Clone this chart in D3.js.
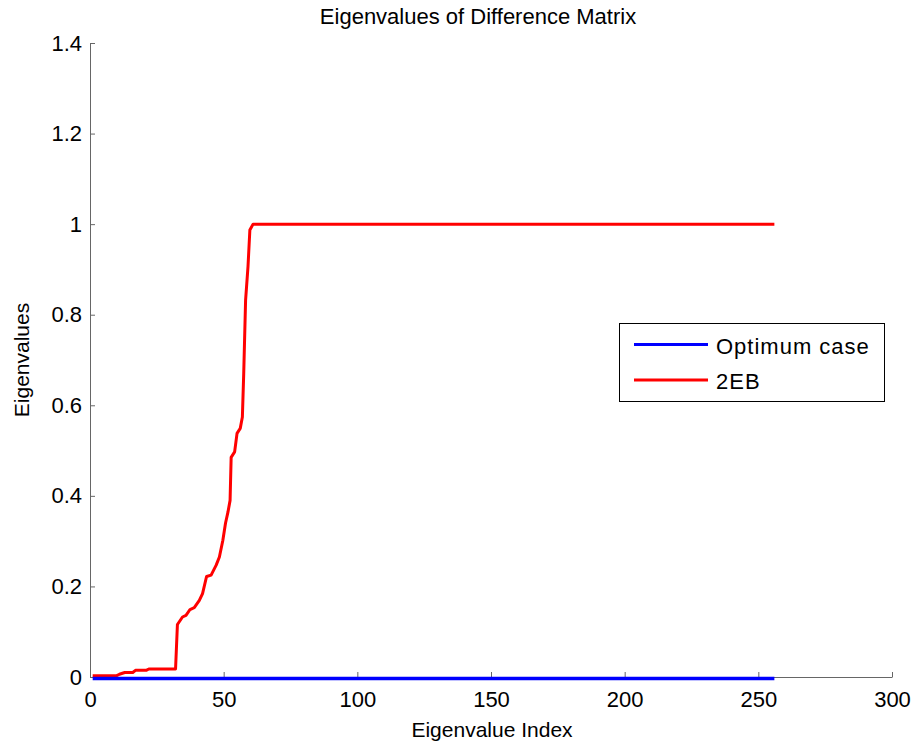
<!DOCTYPE html>
<html>
<head>
<meta charset="utf-8">
<script src="https://cdn.jsdelivr.net/npm/d3@7"></script>
<style>
  html, body { margin: 0; padding: 0; background: #fff; }
  svg { display: block; font-family: "Liberation Sans", Arial, sans-serif; }
</style>
</head>
<body>
<svg id="chart" width="917" height="744"></svg>
<script>
// Sorted eigenvalues of the difference matrix (index 1..256)
const optimumIndex = [1, 256];
const optimumValues = [0, 0];

const ebIndex = [1, 10, 11, 13, 14, 16, 17, 21, 22, 32, 32.7, 34.6, 35.9, 37.4, 39, 40.9, 42.1, 43.6, 45.3, 47.2, 48.4, 49.7, 50.7, 51.6, 52.4, 52.8, 54.1, 55, 56.2, 57, 57.5, 58.2, 59.1, 59.8, 61, 256];
const ebValues = [0.003, 0.003, 0.006, 0.010, 0.010, 0.010, 0.0147, 0.0147, 0.0177, 0.0177, 0.116, 0.1325, 0.136, 0.149, 0.153, 0.169, 0.184, 0.222, 0.225, 0.247, 0.265, 0.302, 0.340, 0.364, 0.390, 0.485, 0.497, 0.538, 0.549, 0.574, 0.670, 0.832, 0.906, 0.987, 1.0, 1.0];

const xTicks = [0, 50, 100, 150, 200, 250, 300];
const yTicks = [0, 0.2, 0.4, 0.6, 0.8, 1, 1.2, 1.4];

const seriesNames = ["Optimum case", "2EB"];
const seriesColors = ["#0000ff", "#ff0000"];

const svg = d3.select("#chart");
const plot = { left: 90, right: 892, top: 43, bottom: 677 };

const x = d3.scaleLinear().domain([0, 300]).range([plot.left, plot.right]);
const y = d3.scaleLinear().domain([0, 1.4]).range([plot.bottom, plot.top]);

const axisColor = "#666";
const fontFamily = "Liberation Sans, Arial, sans-serif";

// x axis (ticks pointing inward)
const xAxis = svg.append("g").attr("transform", `translate(0,${plot.bottom})`)
  .call(d3.axisBottom(x).tickValues(xTicks).tickSizeInner(-5).tickSizeOuter(0).tickPadding(14).tickFormat(d3.format("d")));
xAxis.select(".domain").attr("stroke", axisColor);
xAxis.selectAll(".tick line").attr("stroke", axisColor);
xAxis.selectAll("text").attr("font-size", 22).attr("fill", "#000").attr("font-family", fontFamily);

// y axis
const yAxis = svg.append("g").attr("transform", `translate(${plot.left},0)`)
  .call(d3.axisLeft(y).tickValues(yTicks).tickSizeInner(-5).tickSizeOuter(0).tickPadding(8).tickFormat(d => d3.format("")(d)));
yAxis.select(".domain").attr("stroke", axisColor);
yAxis.selectAll(".tick line").attr("stroke", axisColor);
yAxis.selectAll("text").attr("font-size", 22).attr("fill", "#000").attr("font-family", fontFamily);

// series lines
const line = d3.line().x(d => x(d[0])).y(d => y(d[1]));
const ebData = ebIndex.map((v, i) => [v, ebValues[i]]);
const optData = optimumIndex.map((v, i) => [v, optimumValues[i]]);

svg.append("path").datum(ebData).attr("d", line)
  .attr("fill", "none").attr("stroke", seriesColors[1]).attr("stroke-width", 3).attr("stroke-linejoin", "round");
svg.append("path").datum(optData).attr("d", line).attr("transform", "translate(0,1.5)")
  .attr("fill", "none").attr("stroke", seriesColors[0]).attr("stroke-width", 3.5);

// title and axis labels
svg.append("text").attr("x", 478).attr("y", 24).attr("text-anchor", "middle")
  .attr("font-size", 22).text("Eigenvalues of Difference Matrix");
svg.append("text").attr("x", 492).attr("y", 737).attr("text-anchor", "middle")
  .attr("font-size", 21).text("Eigenvalue Index");
svg.append("text").attr("transform", "translate(28.5,360) rotate(-90)").attr("text-anchor", "middle")
  .attr("font-size", 21).text("Eigenvalues");

// legend
const lg = svg.append("g");
lg.append("rect").attr("x", 619.5).attr("y", 323.5).attr("width", 265).attr("height", 78)
  .attr("fill", "#fff").attr("stroke", "#000").attr("stroke-width", 1);
const legendY = [344.5, 380];
seriesNames.forEach((name, i) => {
  lg.append("line").attr("x1", 634).attr("x2", 708).attr("y1", legendY[i]).attr("y2", legendY[i])
    .attr("stroke", seriesColors[i]).attr("stroke-width", 3);
  lg.append("text").attr("x", 716).attr("y", legendY[i] + 9).attr("font-size", 22)
    .attr("letter-spacing", 1).text(name);
});
</script>
</body>
</html>
